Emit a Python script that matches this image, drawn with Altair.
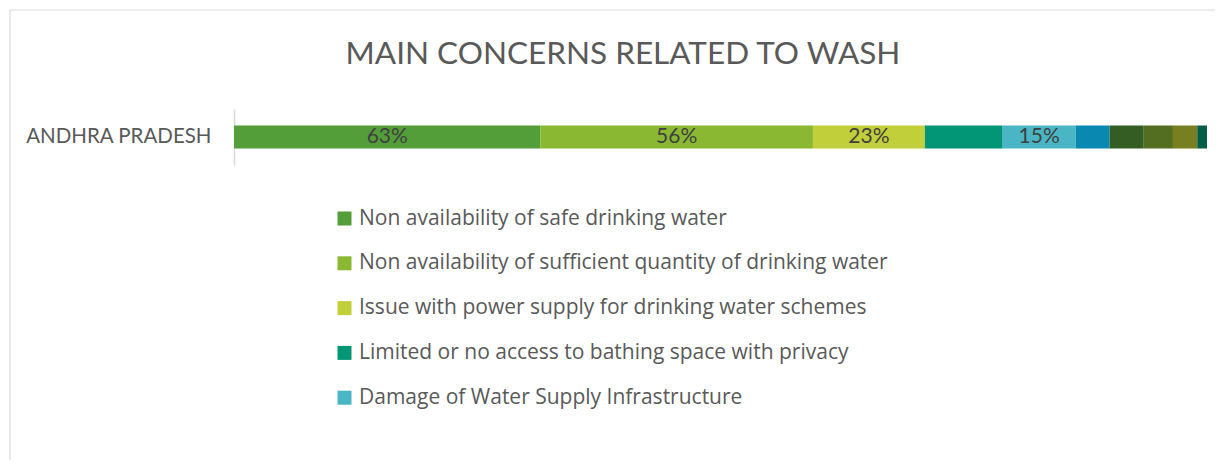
import altair as alt
import pandas as pd

# ---------------- data ----------------
state = "ANDHRA PRADESH"
categories = [
    "Non availability of safe drinking water",
    "Non availability of sufficient quantity of drinking water",
    "Issue with power supply for drinking water schemes",
    "Limited or no access to bathing space with privacy",
    "Damage of Water Supply Infrastructure",
    "Other concern 6",
    "Other concern 7",
    "Other concern 8",
    "Other concern 9",
    "Other concern 10",
]
values = [63, 56, 23, 16, 15, 7, 7, 6, 5, 2]
show_label = [True, True, True, False, True, False, False, False, False, False]
legend_items = categories[:5]
colors = ["#549E39", "#8AB833", "#C0CF3A", "#029676", "#4AB5C4",
          "#0989B1", "#335D22", "#546E21", "#777F20", "#015C48"]
title_text = "MAIN CONCERNS RELATED TO WASH"

df = pd.DataFrame({
    "state": [state] * len(categories),
    "concern": categories,
    "value": values,
    "order": list(range(len(categories))),
    "show": show_label,
})

FONT = "Lato"
LEG_FONT = "Open Sans"
GREY = "#595959"

W, H = 973, 56

base = alt.Chart(df).transform_stack(
    stack="value", groupby=["state"], as_=["x0", "x1"],
    sort=[alt.SortField("order", order="ascending")]
).transform_calculate(
    mid="(datum.x0 + datum.x1) / 2",
    label="datum.value + '%'"
)

xscale = alt.Scale(domain=[0, sum(values)], nice=False, zero=True)

bars = base.mark_bar(size=23).encode(
    x=alt.X("x0:Q", scale=xscale, axis=None),
    x2="x1:Q",
    y=alt.Y("state:N", title=None,
            axis=alt.Axis(ticks=False, domainColor="#d9d9d9", domainWidth=1.5,
                          labelFont=FONT, labelFontSize=20.5, labelColor=GREY,
                          labelPadding=23, labelLimit=400)),
    color=alt.Color("concern:N",
                    scale=alt.Scale(domain=categories, range=colors),
                    legend=alt.Legend(
                        values=legend_items, title=None, orient="none",
                        legendX=100, legendY=99, direction="vertical",
                        symbolType="square", symbolSize=196, symbolStrokeWidth=0,
                        symbolOpacity=1,
                        labelFont=LEG_FONT, labelFontSize=21, labelColor=GREY,
                        labelOffset=4, rowPadding=22.8, labelLimit=900)),
    order=alt.Order("order:Q"),
)

labels = base.transform_filter("datum.show").mark_text(
    font=FONT, fontSize=21, color="#404040", baseline="middle", align="center"
).encode(
    x=alt.X("mid:Q", scale=xscale, axis=None),
    y=alt.Y("state:N"),
    text="label:N",
)

title = alt.Chart(pd.DataFrame({"t": [title_text]})).mark_text(
    font=FONT, fontSize=31.5, color=GREY, baseline="middle", align="center"
).encode(
    text="t:N",
    x=alt.value(389),
    y=alt.value(-54),
)

border = alt.Chart(pd.DataFrame({"b": [1]})).mark_rect(
    fill=None, stroke="#d9d9d9", strokeWidth=1.2
).encode(
    x=alt.value(-224), x2=alt.value(1500),
    y=alt.value(-99), y2=alt.value(900),
)

chart = alt.layer(border, title, bars, labels).properties(
    width=W, height=H,
    autosize=alt.AutoSizeParams(type="none"),
    padding={"left": 226, "top": 101, "right": 8, "bottom": 295},
).configure_view(stroke=None)

chart.save("out.html", embed_options={"renderer": "svg", "actions": False})
